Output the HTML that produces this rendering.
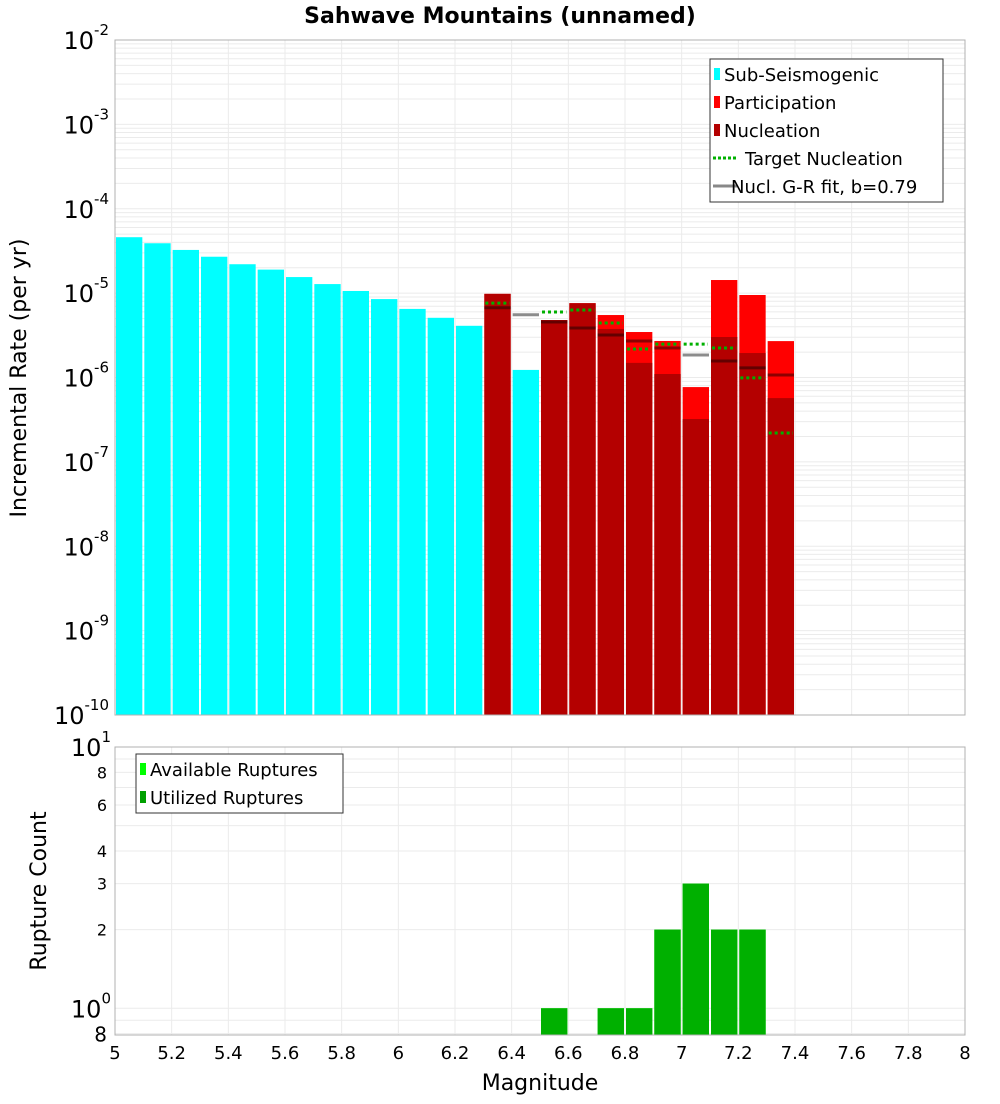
<!DOCTYPE html>
<html><head><meta charset="utf-8"><style>
body{margin:0;background:#fff;font-family:"DejaVu Sans","Liberation Sans",sans-serif}
svg text{font-family:"DejaVu Sans","Liberation Sans",sans-serif}
</style></head><body>
<svg id="c" width="1000" height="1100" xmlns="http://www.w3.org/2000/svg">
<text x="500" y="23" text-anchor="middle" font-size="22" font-weight="bold">Sahwave Mountains (unnamed)</text>
<g id="gtop"></g><g id="gbot"></g>
<text transform="translate(26,378) rotate(-90)" text-anchor="middle" font-size="22">Incremental Rate (per yr)</text>
<text transform="translate(46,891) rotate(-90)" text-anchor="middle" font-size="22">Rupture Count</text>
<text x="540" y="1090" text-anchor="middle" font-size="22">Magnitude</text>
</svg>
<script>
const subMags=[5.05,5.15,5.25,5.35,5.45,5.55,5.65,5.75,5.85,5.95,6.05,6.15,6.25,6.45];
const subVals=[4.6e-5,3.9e-5,3.25e-5,2.7e-5,2.2e-5,1.9e-5,1.55e-5,1.28e-5,1.06e-5,8.5e-6,6.5e-6,5.1e-6,4.1e-6,1.23e-6];
const supMags=[6.35,6.45,6.55,6.65,6.75,6.85,6.95,7.05,7.15,7.25,7.35];
const partVals=[9.8e-6,null,4.8e-6,7.6e-6,5.5e-6,3.46e-6,2.71e-6,7.7e-7,1.43e-5,9.5e-6,2.7e-6];
const nuclVals=[9.8e-6,null,4.8e-6,7.6e-6,3.76e-6,1.49e-6,1.1e-6,3.22e-7,3.02e-6,1.95e-6,5.7e-7];
const targetVals=[7.6e-6,null,5.97e-6,6.3e-6,4.43e-6,2.18e-6,2.49e-6,2.49e-6,2.24e-6,9.9e-7,2.2e-7];
const grVals=[6.7e-6,5.55e-6,4.55e-6,3.86e-6,3.19e-6,2.71e-6,2.24e-6,1.85e-6,1.57e-6,1.3e-6,1.07e-6];
const cntMags=[6.55,6.75,6.85,6.95,7.05,7.15,7.25];
const availVals=[1,1,1,2,3,2,2];
const usedVals=[1,1,1,2,3,2,2];
const xTicks=[5,5.2,5.4,5.6,5.8,6,6.2,6.4,6.6,6.8,7,7.2,7.4,7.6,7.8,8];
const xTickLabels=["5","5.2","5.4","5.6","5.8","6","6.2","6.4","6.6","6.8","7","7.2","7.4","7.6","7.8","8"];
const topExps=[-2,-3,-4,-5,-6,-7,-8,-9,-10];
const botTicks=[8,6,4,3,2,0.8];

const NS="http://www.w3.org/2000/svg";
const X0=115,X1=965,T0=40,T1=715,B0=747,B1=1035;
const xs=m=>X0+(m-5)/3*(X1-X0);
const ysT=v=>T0+(-2-Math.log10(v))/8*(T1-T0);
const bMin=Math.log10(0.79);
const ysB=v=>B0+(1-Math.log10(v))/(1-bMin)*(B1-B0);
function mk(p,tag,at,txt){const e=document.createElementNS(NS,tag);for(const k in at)e.setAttribute(k,at[k]);if(txt!==undefined)e.textContent=txt;p.appendChild(e);return e;}
const gTop=document.getElementById('gtop'),gBot=document.getElementById('gbot');

function grid(g,y0,y1,ys,lines){
  mk(g,'rect',{x:X0,y:y0,width:X1-X0,height:y1-y0,fill:'#fff',stroke:'none'});
  xTicks.forEach(t=>{const l=mk(g,'line',{x1:xs(t),x2:xs(t),y1:y0,y2:y1,stroke:'#ebebeb','stroke-width':1});
    
    });
  lines.forEach(v=>{const y=ys(v);if(y<y0||y>y1)return;const l=mk(g,'line',{x1:X0,x2:X1,y1:y,y2:y,stroke:'#ebebeb','stroke-width':1});
    
    });
}
const tl=[];for(let e=-10;e<-2;e++)for(let k=1;k<10;k++)tl.push(k*Math.pow(10,e));tl.push(1e-2);
grid(gTop,T0,T1,ysT,tl);
const bl=[0.8,0.9,1,2,3,4,5,6,7,8,9,10];
grid(gBot,B0,B1,ysB,bl);

const W=(X1-X0)/30;
function bar(g,m,v,ys,y1,fill,name){if(v==null)return;const y=ys(v);
  const r=mk(g,'rect',{x:xs(m-0.05)+1,y:y,width:W-2,height:y1-y,fill:fill});
  
  }
subMags.forEach((m,i)=>bar(gTop,m,subVals[i],ysT,T1,'#00ffff','sub-seismogenic-bar'));
supMags.forEach((m,i)=>bar(gTop,m,partVals[i],ysT,T1,'#ff0000','participation-bar'));
supMags.forEach((m,i)=>bar(gTop,m,nuclVals[i],ysT,T1,'#b40000','nucleation-bar'));
supMags.forEach((m,i)=>{const y=ysT(grVals[i]);
  const l=mk(gTop,'line',{x1:xs(m-0.05)+1,x2:xs(m+0.05)-1,y1:y,y2:y,stroke:'rgba(0,0,0,0.45)','stroke-width':3});
  
  });
supMags.forEach((m,i)=>{if(targetVals[i]==null)return;const y=ysT(targetVals[i]);
  const l=mk(gTop,'line',{x1:xs(m-0.05)+2,x2:xs(m+0.05)-2,y1:y,y2:y,stroke:'#00b000','stroke-width':3,'stroke-dasharray':'3,3'});
  
  });
cntMags.forEach((m,i)=>bar(gBot,m,availVals[i],ysB,B1,'#00ff00','available-ruptures-bar'));
cntMags.forEach((m,i)=>bar(gBot,m,usedVals[i],ysB,B1,'#00b000','utilized-ruptures-bar'));

mk(gTop,'rect',{x:X0,y:T0,width:X1-X0,height:T1-T0,fill:'none',stroke:'#b0b0b0'});
mk(gBot,'rect',{x:X0,y:B0,width:X1-X0,height:B1-B0,fill:'none',stroke:'#b0b0b0'});

topExps.forEach(e=>{const y=ysT(Math.pow(10,e));
  const t=mk(gTop,'text',{x:X0-6,y:y+9,'text-anchor':'end','font-size':24});
  
  
  mk(t,'tspan',{},'10');mk(t,'tspan',{dy:-14,'font-size':15},String(e));});
const t1=mk(gBot,'text',{x:X0-4,y:B0+9,'text-anchor':'end','font-size':24});


mk(t1,'tspan',{},'10');mk(t1,'tspan',{dy:-14,'font-size':15},'1');
const t0=mk(gBot,'text',{x:X0-4,y:ysB(1)+9,'text-anchor':'end','font-size':24});


mk(t0,'tspan',{},'10');mk(t0,'tspan',{dy:-14,'font-size':15},'0');
botTicks.forEach(v=>{const big=v<1;const t=mk(gBot,'text',{x:X0-8,y:ysB(v)+(big?8:6),'text-anchor':'end','font-size':big?20:16},big?'8':String(v));
  
  });
xTicks.forEach((t,i)=>{const e=mk(gBot,'text',{x:xs(t),y:1059,'text-anchor':'middle','font-size':18},xTickLabels[i]);
  
  });

function legend(g,x,y,w,h,items,name){
  const lg=mk(g,'g',{});
  
  
  mk(lg,'rect',{x:x,y:y,width:w,height:h,fill:'#fff',stroke:'#333'});
  items.forEach((it,i)=>{const cy=y+15+i*28;
    if(it.t==='box')mk(lg,'rect',{x:x+4,y:cy-6,width:6,height:12,fill:it.c});
    else mk(lg,'line',{x1:x+3,x2:x+27,y1:cy,y2:cy,stroke:it.c,'stroke-width':3,'stroke-dasharray':it.d||''});
    const e=mk(lg,'text',{x:x+(it.t==='box'?14:35-(it.d?0:14)),y:cy+7,'font-size':18},it.l);
    
    });
}
legend(gTop,710,59,233,143,[{t:'box',c:'#00ffff',l:'Sub-Seismogenic'},{t:'box',c:'#ff0000',l:'Participation'},{t:'box',c:'#b40000',l:'Nucleation'},{t:'line',c:'#00b000',d:'3,2',l:'Target Nucleation'},{t:'line',c:'#888',l:'Nucl. G-R fit, b=0.79'}],'top-legend');
legend(gBot,136,754,207,59,[{t:'box',c:'#00ff00',l:'Available Ruptures'},{t:'box',c:'#00a000',l:'Utilized Ruptures'}],'bottom-legend');
</script>
</body></html>
